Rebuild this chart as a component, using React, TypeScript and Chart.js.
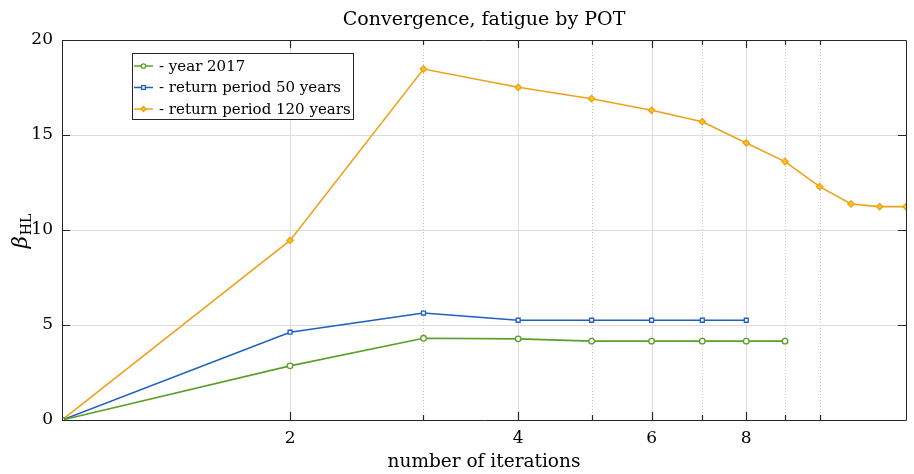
import React, { useEffect, useRef } from "react";
import { Chart, registerables } from "chart.js";

Chart.register(...registerables);

// ---- data ----
const iterations = [1, 2, 3, 4, 5, 6, 7, 8, 9, 10, 11, 12, 13];
const year2017 = [0, 2.85, 4.3, 4.27, 4.15, 4.15, 4.15, 4.15, 4.15];
const returnPeriod50 = [0, 4.62, 5.63, 5.25, 5.25, 5.25, 5.25, 5.25];
const returnPeriod120 = [0, 9.45, 18.47, 17.51, 16.91, 16.3, 15.7, 14.58, 13.6, 12.28, 11.37, 11.23, 11.23];
const seriesLabels = ["- year 2017", "- return period 50 years", "- return period 120 years"];
const seriesColors = ["#5b9f2b", "#1f5fbf", "#eea21a"];
const markerFills = ["#ffffff", "#ffffff", "#f7c51c"];
const markerStyles = ["circle", "rect", "rectRot"];
const xTickLabels = [2, 4, 6, 8];
const xMinorTicks = [2, 3, 4, 5, 6, 7, 8, 9, 10];
const yTicks = [0, 5, 10, 15, 20];
const titleText = "Convergence, fatigue by POT";
const xLabelText = "number of iterations";

const FONT = "'DejaVu Serif', serif";

function toPoints(values: number[]) {
  return values.map((v, i) => ({ x: iterations[i], y: v }));
}

function drawMarker(ctx: CanvasRenderingContext2D, style: string, x: number, y: number, r: number, stroke: string, fill: string) {
  ctx.save();
  ctx.strokeStyle = stroke;
  ctx.fillStyle = fill;
  ctx.lineWidth = 1.3;
  ctx.beginPath();
  if (style === "circle") {
    ctx.arc(x, y, r, 0, Math.PI * 2);
  } else if (style === "rect") {
    ctx.rect(x - r * 0.85, y - r * 0.85, r * 1.7, r * 1.7);
  } else {
    ctx.moveTo(x, y - r * 1.2);
    ctx.lineTo(x + r * 1.2, y);
    ctx.lineTo(x, y + r * 1.2);
    ctx.lineTo(x - r * 1.2, y);
    ctx.closePath();
  }
  ctx.fill();
  ctx.stroke();
  ctx.restore();
}

const matlabPlugin = {
  id: "matlabAxes",
  beforeDatasetsDraw(chart: any) {
    const { ctx, chartArea: a, scales } = chart;
    const x = scales.x;
    const y = scales.y;
    ctx.save();
    ctx.lineWidth = 1;
    ctx.strokeStyle = "#dcdcdc";
    for (const v of yTicks) {
      if (v === yTicks[0] || v === yTicks[yTicks.length - 1]) continue;
      const py = Math.round(y.getPixelForValue(v)) + 0.5;
      ctx.beginPath();
      ctx.moveTo(a.left, py);
      ctx.lineTo(a.right, py);
      ctx.stroke();
    }
    for (const v of xTickLabels) {
      const px = Math.round(x.getPixelForValue(v)) + 0.5;
      ctx.beginPath();
      ctx.moveTo(px, a.top);
      ctx.lineTo(px, a.bottom);
      ctx.stroke();
    }
    ctx.strokeStyle = "#c4c4c4";
    ctx.setLineDash([1, 2]);
    for (const v of xMinorTicks) {
      if (xTickLabels.includes(v)) continue;
      const px = Math.round(x.getPixelForValue(v)) + 0.5;
      ctx.beginPath();
      ctx.moveTo(px, a.top);
      ctx.lineTo(px, a.bottom);
      ctx.stroke();
    }
    ctx.restore();
  },
  afterDatasetsDraw(chart: any) {
    const { ctx, chartArea: a, scales } = chart;
    const x = scales.x;
    const y = scales.y;
    ctx.save();
    ctx.strokeStyle = "#262626";
    ctx.lineWidth = 1;
    ctx.beginPath();
    ctx.rect(Math.round(a.left) + 0.5, Math.round(a.top) + 0.5, Math.round(a.right - a.left), Math.round(a.bottom - a.top));
    ctx.stroke();
    ctx.lineWidth = 1.2;
    for (const v of xMinorTicks) {
      const len = xTickLabels.includes(v) ? 8 : 5;
      const px = Math.round(x.getPixelForValue(v)) + 0.5;
      ctx.beginPath();
      ctx.moveTo(px, a.bottom);
      ctx.lineTo(px, a.bottom - len);
      ctx.moveTo(px, a.top);
      ctx.lineTo(px, a.top + len);
      ctx.stroke();
    }
    for (const v of yTicks) {
      const py = Math.round(y.getPixelForValue(v)) + 0.5;
      ctx.beginPath();
      ctx.moveTo(a.left, py);
      ctx.lineTo(a.left + 8, py);
      ctx.moveTo(a.right, py);
      ctx.lineTo(a.right - 8, py);
      ctx.stroke();
    }
    ctx.restore();
  },
  afterDraw(chart: any) {
    const { ctx, chartArea: a } = chart;
    const cx = (a.left + a.right) / 2;
    ctx.save();
    ctx.fillStyle = "#000";
    // title
    ctx.font = `19px ${FONT}`;
    ctx.textAlign = "center";
    ctx.textBaseline = "middle";
    ctx.fillText(titleText, cx, 20);
    // x label
    ctx.font = `18.5px ${FONT}`;
    ctx.fillText(xLabelText, cx, 462);
    // y label: beta_HL
    ctx.save();
    ctx.translate(23, 231);
    ctx.rotate(-Math.PI / 2);
    ctx.textAlign = "left";
    ctx.textBaseline = "alphabetic";
    ctx.font = `italic 21px ${FONT}`;
    const bw = ctx.measureText("β").width;
    ctx.font = `14px ${FONT}`;
    const hw = ctx.measureText("HL").width;
    const start = -(bw + hw + 1) / 2;
    ctx.font = `italic 21px ${FONT}`;
    ctx.fillText("β", start, 4);
    ctx.font = `14px ${FONT}`;
    ctx.fillText("HL", start + bw + 1, 8);
    ctx.restore();
    // legend
    const lx = a.left + 70;
    const ly = a.top + 13;
    const lw = 221;
    const lh = 66;
    ctx.fillStyle = "#ffffff";
    ctx.fillRect(lx, ly, lw, lh);
    ctx.strokeStyle = "#262626";
    ctx.lineWidth = 1;
    ctx.strokeRect(Math.round(lx) + 0.5, Math.round(ly) + 0.5, lw, lh);
    ctx.font = `15px ${FONT}`;
    ctx.textAlign = "left";
    ctx.textBaseline = "middle";
    seriesLabels.forEach((label, i) => {
      const ry = ly + 13 + i * 21.5;
      ctx.strokeStyle = seriesColors[i];
      ctx.lineWidth = 1.5;
      ctx.beginPath();
      ctx.moveTo(lx + 2, ry);
      ctx.lineTo(lx + 21, ry);
      ctx.stroke();
      drawMarker(ctx, markerStyles[i], lx + 11.5, ry, 2.2, seriesColors[i], markerFills[i]);
      ctx.fillStyle = "#000";
      ctx.fillText(label, lx + 27, ry + 1);
    });
    ctx.restore();
  },
};

export default function App() {
  const canvasRef = useRef<HTMLCanvasElement | null>(null);

  useEffect(() => {
    const canvas = canvasRef.current;
    if (!canvas) return;
    const seriesData = [year2017, returnPeriod50, returnPeriod120];
    const chart = new Chart(canvas, {
      type: "line",
      data: {
        datasets: seriesData.map((vals, i) => ({
          label: seriesLabels[i],
          data: toPoints(vals),
          borderColor: seriesColors[i],
          backgroundColor: markerFills[i],
          borderWidth: 1.6,
          pointStyle: markerStyles[i] as any,
          pointRadius: i === 2 ? 3.2 : 2.8,
          pointBorderWidth: 1.3,
          pointBorderColor: seriesColors[i],
          pointBackgroundColor: markerFills[i],
          tension: 0,
          fill: false,
        })),
      },
      options: {
        animation: false,
        responsive: false,
        maintainAspectRatio: false,
        devicePixelRatio: 1,
        layout: { autoPadding: false, padding: { top: 40, right: 4, left: 0, bottom: 0 } },
        plugins: {
          legend: { display: false },
          title: { display: false },
          tooltip: { enabled: false },
        },
        scales: {
          x: {
            type: "logarithmic",
            min: 1,
            max: 13,
            grid: { display: false, drawTicks: false },
            border: { display: false },
            afterBuildTicks: (s: any) => {
              s.ticks = iterations.map((v) => ({ value: v }));
            },
            afterFit: (s: any) => {
              s.height = 54;
            },
            ticks: {
              autoSkip: false,
              maxRotation: 0,
              padding: 8,
              color: "#000",
              font: { family: FONT, size: 17 },
              callback: (v: any) => (xTickLabels.includes(Number(v)) ? String(v) : ""),
            },
          },
          y: {
            type: "linear",
            min: 0,
            max: 20,
            grid: { display: false, drawTicks: false },
            border: { display: false },
            afterFit: (s: any) => {
              s.width = 62;
            },
            afterBuildTicks: (s: any) => {
              s.ticks = yTicks.map((v) => ({ value: v }));
            },
            ticks: {
              padding: 9,
              color: "#000",
              font: { family: FONT, size: 17 },
              callback: (v: any) => String(v),
            },
          },
        },
      },
      plugins: [matlabPlugin],
    } as any);
    return () => chart.destroy();
  }, []);

  return (
    <div style={{ position: "absolute", left: 0, top: 0, width: 914, height: 474, background: "#fff" }}>
      <canvas ref={canvasRef} width={914} height={474} style={{ width: 914, height: 474, display: "block" }} />
    </div>
  );
}
